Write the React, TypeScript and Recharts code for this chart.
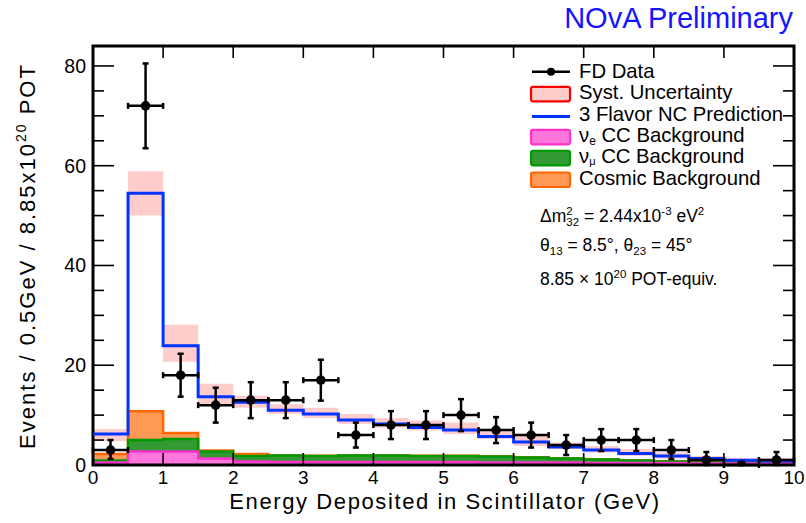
import React from 'react';
import {
  ComposedChart,
  Area,
  Line,
  Scatter,
  ErrorBar,
  XAxis,
  YAxis,
  ReferenceArea,
} from 'recharts';

// ---------- data ----------
const binEdges = [0, 0.5, 1, 1.5, 2, 2.5, 3, 3.5, 4, 4.5, 5, 5.5, 6, 6.5, 7, 7.5, 8, 8.5, 9, 9.5, 10];
const binCenters = [0.25, 0.75, 1.25, 1.75, 2.25, 2.75, 3.25, 3.75, 4.25, 4.75, 5.25, 5.75, 6.25, 6.75, 7.25, 7.75, 8.25, 8.75, 9.25, 9.75];

// 3 flavor NC prediction (total)
const prediction = [6.2, 54.5, 23.9, 13.7, 12.6, 11.0, 10.2, 9.0, 8.2, 7.5, 7.0, 5.7, 4.6, 3.6, 3.0, 2.3, 1.8, 1.3, 0.95, 0.8];
// systematic uncertainty band
const systLow = [4.8, 50.0, 20.7, 12.0, 11.5, 10.2, 9.4, 8.2, 7.5, 6.9, 6.2, 5.2, 3.8, 3.2, 2.5, 1.8, 1.3, 0.8, 0.5, 0.4];
const systHigh = [7.2, 58.9, 28.1, 16.3, 13.9, 12.2, 11.5, 10.2, 9.4, 8.9, 8.5, 7.2, 5.8, 4.5, 3.8, 3.2, 2.5, 1.8, 1.4, 1.4];
// stacked backgrounds (individual components)
const nueCC = [0.5, 2.7, 2.7, 1.3, 0.7, 0.6, 0.6, 0.6, 0.6, 0.6, 0.6, 0.5, 0.5, 0.5, 0.4, 0.4, 0.4, 0.3, 0.3, 0.3];
const numuCC = [0.4, 2.3, 2.5, 1.4, 1.1, 1.3, 1.2, 1.3, 1.3, 1.2, 1.2, 1.2, 1.0, 0.8, 0.7, 0.5, 0.3, 0.2, 0.2, 0.2];
const cosmic = [1.3, 5.8, 1.2, 0.2, 0.4, 0.05, 0.03, 0.03, 0.03, 0.03, 0.03, 0.03, 0.03, 0.03, 0.03, 0.03, 0.03, 0.03, 0.03, 0.03];
// FD data
const fdData = [3, 72, 18, 12, 13, 13, 17, 6, 8, 8, 10, 7, 6, 4, 5, 5, 3, 1, 0, 1];
const fdErrLow = [1.8, 8.5, 4.3, 3.5, 3.6, 3.6, 4.1, 2.5, 2.8, 2.8, 3.2, 2.6, 2.5, 2.0, 2.2, 2.2, 1.8, 1.0, 0, 1.0];
const fdErrHigh = [2.0, 8.5, 4.3, 3.5, 3.6, 3.6, 4.1, 2.5, 2.8, 2.8, 3.2, 2.6, 2.5, 2.0, 2.2, 2.2, 2.0, 1.6, 0, 1.6];
const binHalfWidth = 0.25;

const xTicks = [0, 1, 2, 3, 4, 5, 6, 7, 8, 9, 10];
const yTicks = [0, 5, 10, 15, 20, 25, 30, 35, 40, 45, 50, 55, 60, 65, 70, 75, 80];
const yMajor = [0, 20, 40, 60, 80];

const legendLabels = ['FD Data', 'Syst. Uncertainty', '3 Flavor NC Prediction', 'CC Background', 'CC Background', 'Cosmic Background'];

// ---------- build tables ----------
// ROOT-style stack: each histogram is cumulative and drawn from the largest down.
const lastBin = prediction.length - 1;
const histData = binEdges.map((x, i) => {
  const k = Math.min(i, lastBin);
  return {
    x,
    pred: prediction[k],
    syst: [systLow[k], systHigh[k]],
    stackNue: nueCC[k],
    stackNumu: nueCC[k] + numuCC[k],
    stackCosmic: nueCC[k] + numuCC[k] + cosmic[k],
  };
});
const pointData = binCenters.map((x, i) => ({
  x,
  y: fdData[i],
  ey: [fdErrLow[i], fdErrHigh[i]],
  ex: binHalfWidth,
}));

// ---------- layout ----------
const W = 806;
const H = 523;
const M_TOP = 46;
const M_RIGHT = 12;
const Y_AXIS_W = 93;
const X_AXIS_H = 58;
const PLOT_W = W - Y_AXIS_W - M_RIGHT;
const PLOT_H = H - M_TOP - X_AXIS_H;
const FONT = '"Liberation Sans", Arial, Helvetica, sans-serif';

const XTick = (props: any) => {
  const { x, y, payload } = props;
  return (
    <g>
      <line x1={x} y1={y} x2={x} y2={y - 12} stroke="#000" strokeWidth={1.6} />
      <line x1={x} y1={y - PLOT_H} x2={x} y2={y - PLOT_H + 12} stroke="#000" strokeWidth={1.6} />
      <text x={x} y={y + 19} textAnchor="middle" fontSize={19} fontFamily={FONT} fill="#000">
        {payload.value}
      </text>
    </g>
  );
};

const YTick = (props: any) => {
  const { x, y, payload } = props;
  const major = yMajor.includes(payload.value);
  const len = major ? 21 : 11;
  return (
    <g>
      <line x1={x} y1={y} x2={x + len} y2={y} stroke="#000" strokeWidth={1.6} />
      <line x1={x + PLOT_W} y1={y} x2={x + PLOT_W - len} y2={y} stroke="#000" strokeWidth={1.6} />
      {major && (
        <text x={x - 7} y={y + 7} textAnchor="end" fontSize={19.5} fontFamily={FONT} fill="#000">
          {payload.value}
        </text>
      )}
    </g>
  );
};

const Dot = (props: any) => {
  const { cx, cy } = props;
  if (cx == null || cy == null) return null;
  return <circle cx={cx} cy={cy} r={4.8} fill="#000" />;
};

const LEG_X = 530;
const LEG_TEXT_X = 579;
const legBaselines = [77.7, 99.3, 121, 142.3, 163.3, 185];
const boxStyles = [
  null,
  { fill: '#ffcccc', stroke: '#ff0000' },
  null,
  { fill: '#ff77dd', stroke: '#ff33cc' },
  { fill: '#339933', stroke: '#009900' },
  { fill: '#ff9955', stroke: '#ff6600' },
];

export default function App() {
  return (
    <div style={{ position: 'absolute', left: 0, top: 0, width: W, height: H, background: '#fff', fontFamily: FONT }}>
      <ComposedChart
        width={W}
        height={H}
        data={histData}
        margin={{ top: M_TOP, right: M_RIGHT, bottom: 0, left: 0 }}
      >
        <XAxis
          dataKey="x"
          type="number"
          domain={[0, 10]}
          ticks={xTicks}
          interval={0}
          allowDataOverflow
          axisLine={false}
          tickLine={false}
          tickSize={0}
          tickMargin={0}
          height={X_AXIS_H}
          tick={<XTick />}
        />
        <YAxis
          type="number"
          domain={[0, 84]}
          ticks={yTicks}
          interval={0}
          allowDataOverflow
          axisLine={false}
          tickLine={false}
          tickSize={0}
          tickMargin={0}
          width={Y_AXIS_W}
          tick={<YTick />}
        />
        <Area
          dataKey="syst"
          type="stepAfter"
          fill="#ffcccc"
          fillOpacity={1}
          stroke="none"
          isAnimationActive={false}
        />
        <Area
          dataKey="stackCosmic"
          type="stepAfter"
          baseValue={0}
          fill="#ff9955"
          fillOpacity={1}
          stroke="#ff6600"
          strokeWidth={2.5}
          isAnimationActive={false}
        />
        <Area
          dataKey="stackNumu"
          type="stepAfter"
          baseValue={0}
          fill="#339933"
          fillOpacity={1}
          stroke="#009900"
          strokeWidth={2.5}
          isAnimationActive={false}
        />
        <Area
          dataKey="stackNue"
          type="stepAfter"
          baseValue={0}
          fill="#ff77dd"
          fillOpacity={1}
          stroke="#ff33cc"
          strokeWidth={2.5}
          isAnimationActive={false}
        />
        <Line
          dataKey="pred"
          type="stepAfter"
          stroke="#0033ff"
          strokeWidth={3}
          dot={false}
          isAnimationActive={false}
        />
        <Scatter data={pointData} dataKey="y" shape={<Dot />} isAnimationActive={false}>
          <ErrorBar dataKey="ey" direction="y" width={3} stroke="#000" strokeWidth={2.5} />
          <ErrorBar dataKey="ex" direction="x" width={3} stroke="#000" strokeWidth={2.5} />
        </Scatter>
        <ReferenceArea x1={0} x2={10} y1={0} y2={84} fill="none" stroke="#000" strokeWidth={3} ifOverflow="visible" />
      </ComposedChart>

      <svg
        width={W}
        height={H}
        style={{ position: 'absolute', left: 0, top: 0, pointerEvents: 'none' }}
        fontFamily={FONT}
      >
        {/* title */}
        <text x={793} y={28} textAnchor="end" fontSize={29} fill="#1414ff">
          NOvA Preliminary
        </text>

        {/* axis titles */}
        <text
          transform="translate(35,256) rotate(-90)"
          textAnchor="middle"
          fontSize={22}
          fill="#000"
          style={{ letterSpacing: '2px' }}
        >
          Events / 0.5GeV / 8.85x10
          <tspan dy={-9} fontSize={14}>20</tspan>
          <tspan dy={9}> POT</tspan>
        </text>
        <text x={445} y={509} textAnchor="middle" fontSize={22} fill="#000" style={{ letterSpacing: '1.6px' }}>
          Energy Deposited in Scintillator (GeV)
        </text>

        {/* legend */}
        <g>
          <line x1={LEG_X + 2} y1={legBaselines[0] - 6} x2={LEG_X + 40} y2={legBaselines[0] - 6} stroke="#000" strokeWidth={2.5} />
          <circle cx={LEG_X + 21} cy={legBaselines[0] - 6} r={4} fill="#000" />
          <line x1={LEG_X + 21} y1={legBaselines[0] - 9} x2={LEG_X + 21} y2={legBaselines[0] - 3} stroke="#000" strokeWidth={2} />
          <line x1={LEG_X + 2} y1={legBaselines[2] - 4.5} x2={LEG_X + 40} y2={legBaselines[2] - 4.5} stroke="#0033ff" strokeWidth={3} />
          {boxStyles.map((s, i) =>
            s ? (
              <rect
                key={i}
                x={LEG_X + 1}
                y={legBaselines[i] - 12.5}
                width={39}
                height={14.5}
                rx={2}
                fill={s.fill}
                stroke={s.stroke}
                strokeWidth={2.2}
              />
            ) : null
          )}
          <text x={LEG_TEXT_X} y={legBaselines[0]} fontSize={20.3} fill="#000">{legendLabels[0]}</text>
          <text x={LEG_TEXT_X} y={legBaselines[1]} fontSize={20.3} fill="#000">{legendLabels[1]}</text>
          <text x={LEG_TEXT_X} y={legBaselines[2]} fontSize={20.3} fill="#000">{legendLabels[2]}</text>
          <text x={LEG_TEXT_X} y={legBaselines[3]} fontSize={20.3} fill="#000">
            ν<tspan dy={3} fontSize={12}>e</tspan>
            <tspan dy={-3}> {legendLabels[3]}</tspan>
          </text>
          <text x={LEG_TEXT_X} y={legBaselines[4]} fontSize={20.3} fill="#000">
            ν<tspan dy={2} fontSize={11}>μ</tspan>
            <tspan dy={-2}> {legendLabels[4]}</tspan>
          </text>
          <text x={LEG_TEXT_X} y={legBaselines[5]} fontSize={20.3} fill="#000">{legendLabels[5]}</text>
        </g>

        {/* annotations */}
        <text x={540} y={222} fontSize={17.5} fill="#000">
          Δm<tspan dy={-7} fontSize={11.5}>2</tspan>
          <tspan dx={-6.4} dy={11} fontSize={11.5}>32</tspan>
          <tspan dy={-4}> = 2.44x10</tspan>
          <tspan dy={-7} fontSize={11.5}>-3</tspan>
          <tspan dy={7}> eV</tspan>
          <tspan dy={-7} fontSize={11.5}>2</tspan>
        </text>
        <text x={540} y={251} fontSize={17.5} fill="#000">
          θ<tspan dy={4} fontSize={11.5}>13</tspan>
          <tspan dy={-4}> = 8.5°, θ</tspan>
          <tspan dy={4} fontSize={11.5}>23</tspan>
          <tspan dy={-4}> = 45°</tspan>
        </text>
        <text x={540} y={285} fontSize={17.5} fill="#000">
          8.85 × 10<tspan dy={-7} fontSize={11.5}>20</tspan>
          <tspan dy={7}> POT-equiv.</tspan>
        </text>
      </svg>
    </div>
  );
}
